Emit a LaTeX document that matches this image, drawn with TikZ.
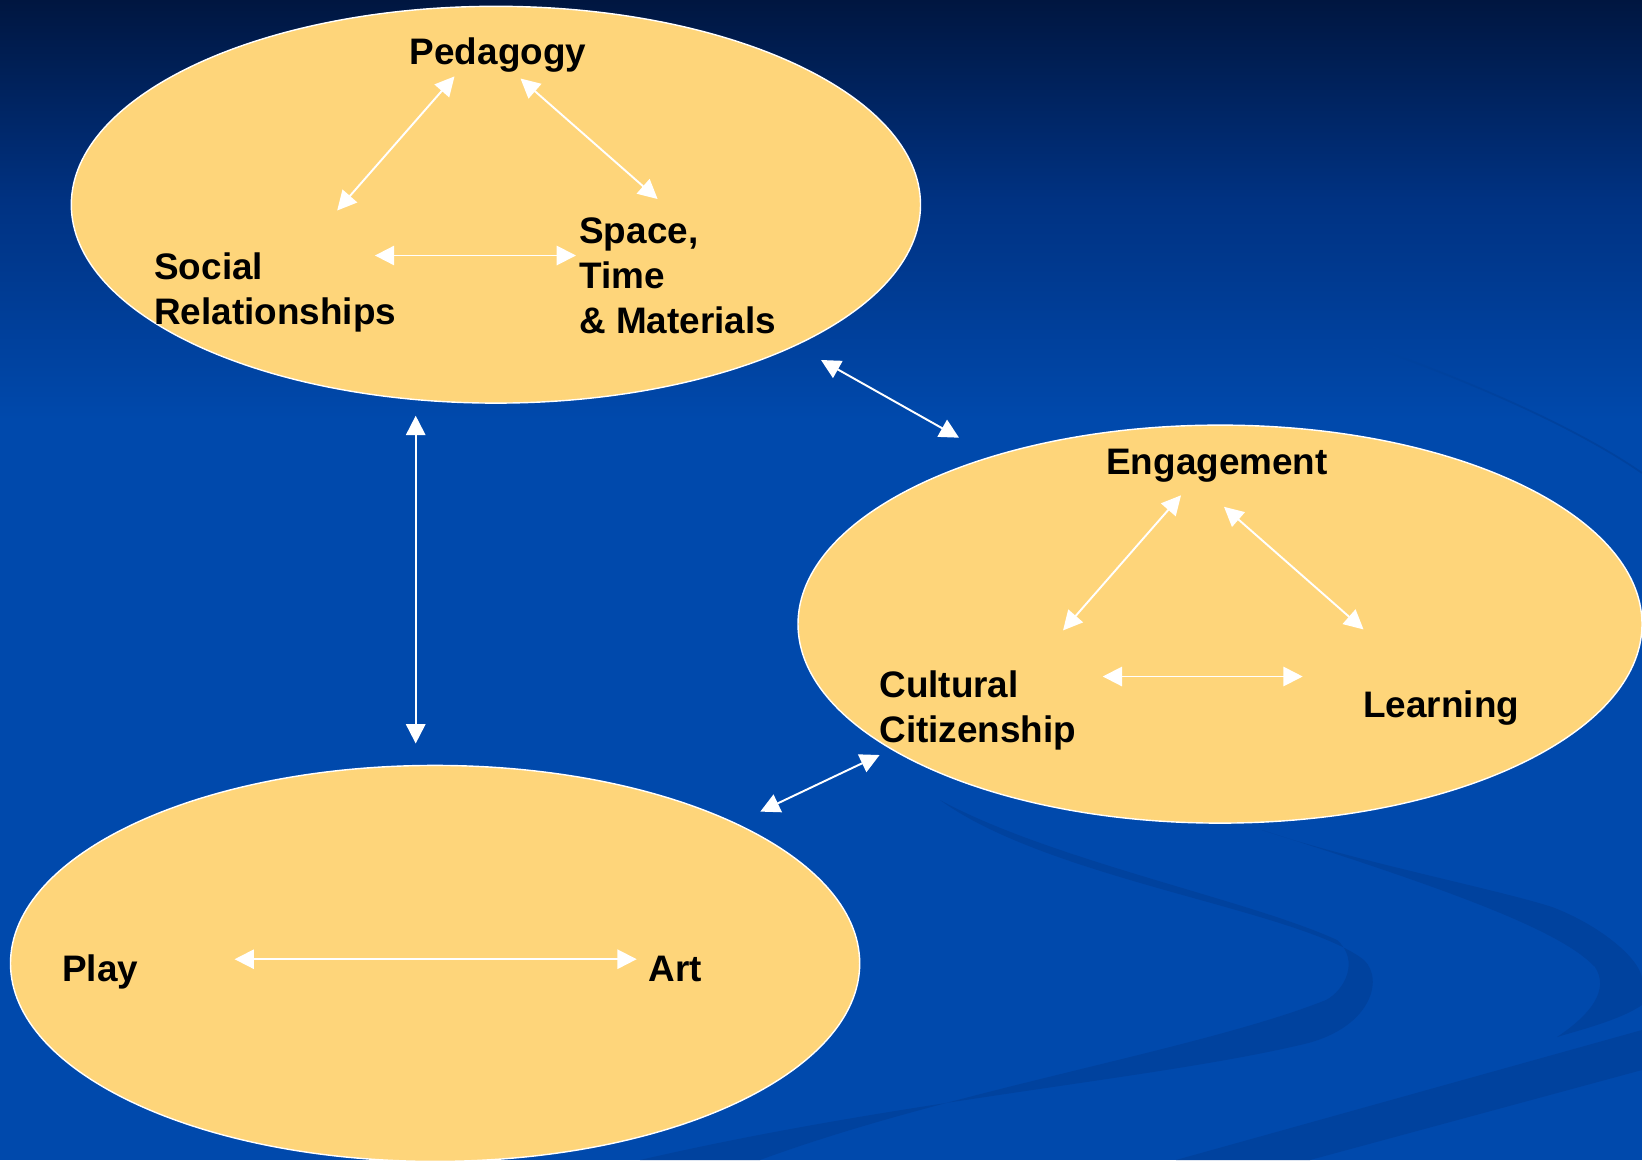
\documentclass[tikz,border=0pt]{standalone}
\usepackage{fontspec}
\setmainfont{Liberation Sans}
\usetikzlibrary{arrows.meta}

\definecolor{bgtop}{RGB}{0,22,64}
\definecolor{bgmid}{RGB}{0,50,130}
\definecolor{bgblue}{RGB}{0,73,172}
\definecolor{swirl}{RGB}{0,66,158}
\definecolor{oval}{RGB}{254,213,122}

\begin{document}
\begin{tikzpicture}[x=0.02cm,y=-0.02cm,>={Triangle[length=11pt,width=11pt]},
	oval/.style={fill=oval, draw=white, line width=0.8pt},
	label/.style={font=\bfseries\fontsize{21}{25.5}\selectfont, inner sep=0pt, align=left},
	link/.style={<->, white, line width=1.1pt}]
	% Hintergrund
	\fill[bgblue] (0,0) rectangle (1642,1160);
	\shade[top color=bgtop, bottom color=bgmid] (0,0) rectangle (1642,200);
	\shade[top color=bgmid, bottom color=bgblue] (0,200) rectangle (1642,420);
	\useasboundingbox (0,0) rectangle (1642,1160);
	
	% Schlieren
	\fill[swirl] (940,800) .. controls (1050,860) and (1250,900) .. (1337,940)
		.. controls (1360,960) and (1345,990) .. (1326,1000)
		.. controls (1200,1050) and (950,1090) .. (760,1160) -- (640,1160)
		.. controls (900,1100) and (1150,1080) .. (1300,1045)
		.. controls (1370,1030) and (1385,980) .. (1364,960)
		.. controls (1300,910) and (1050,880) .. (940,800) -- cycle;
	\fill[swirl] (1262,830) .. controls (1350,860) and (1500,890) .. (1552,907)
		.. controls (1600,925) and (1642,960) .. (1642,980) -- (1642,1005)
		.. controls (1620,1020) and (1580,1030) .. (1557,1037)
		.. controls (1590,1015) and (1610,990) .. (1595,967)
		.. controls (1560,930) and (1450,890) .. (1262,830) -- cycle;
	\fill[swirl] (1642,1030) -- (1642,1070) -- (1310,1160) -- (1176,1160) -- cycle;
	\draw[swirl, line width=1pt] (1373,347) .. controls (1480,385) and (1580,430) .. (1642,473);
	
	% Ovale
	\filldraw[oval] (495.9,204.7) ellipse [x radius=424.6, y radius=198.4];
	\filldraw[oval] (1220,624.1) ellipse [x radius=422, y radius=199];
	\filldraw[oval] (435.1,963.4) ellipse [x radius=424.6, y radius=198];
	
	% Beschriftungen (base = letzte Zeile)
	\node[label, anchor=base] (ped) at (498,64) {Pedagogy};
	\node[label, anchor=base west] (soc) at (154,324) {Social\\Relationships};
	\node[label, anchor=base west] (spc) at (579,333) {Space,\\Time\\\& Materials};
	\node[label, anchor=base] (eng) at (1217,474) {Engagement};
	\node[label, anchor=base west] (cul) at (879,742) {Cultural\\Citizenship};
	\node[label, anchor=base west] (lrn) at (1363,717) {Learning};
	\node[label, anchor=base west] (ply) at (62,981) {Play};
	\node[label, anchor=base west] (art) at (648,981) {Art};
	
	% Pfeilenden
	\coordinate (ped-l) at (454.5,76.4);
	\coordinate (soc-t) at (337.2,210.5);
	\coordinate (ped-r) at (520.5,78.5);
	\coordinate (spc-t) at (657.6,199);
	\coordinate (soc-r) at (374.9,255.5);
	\coordinate (spc-l) at (576,255.5);
	\coordinate (top-r) at (821,360);
	\coordinate (mid-l) at (959,437.7);
	\coordinate (top-b) at (415.7,415.7);
	\coordinate (bot-t) at (415.7,743.5);
	\coordinate (eng-l) at (1181,495.3);
	\coordinate (cul-t) at (1063,630.4);
	\coordinate (eng-r) at (1224,506.8);
	\coordinate (lrn-t) at (1363.5,629.4);
	\coordinate (cul-r) at (1102.7,676.5);
	\coordinate (lrn-l) at (1302.7,676.5);
	\coordinate (bot-r) at (760.3,811.6);
	\coordinate (mid-b) at (879.6,755);
	\coordinate (ply-r) at (234.6,959.2);
	\coordinate (art-l) at (636.7,959.2);
	
	% Pfeile
	\draw[link] (ped-l) -- (soc-t);
	\draw[link] (ped-r) -- (spc-t);
	\draw[link] (soc-r) -- (spc-l);
	\draw[link] (top-r) -- (mid-l);
	\draw[link] (top-b) -- (bot-t);
	\draw[link] (eng-l) -- (cul-t);
	\draw[link] (eng-r) -- (lrn-t);
	\draw[link] (cul-r) -- (lrn-l);
	\draw[link] (bot-r) -- (mid-b);
	\draw[link] (ply-r) -- (art-l);
\end{tikzpicture}
\end{document}
